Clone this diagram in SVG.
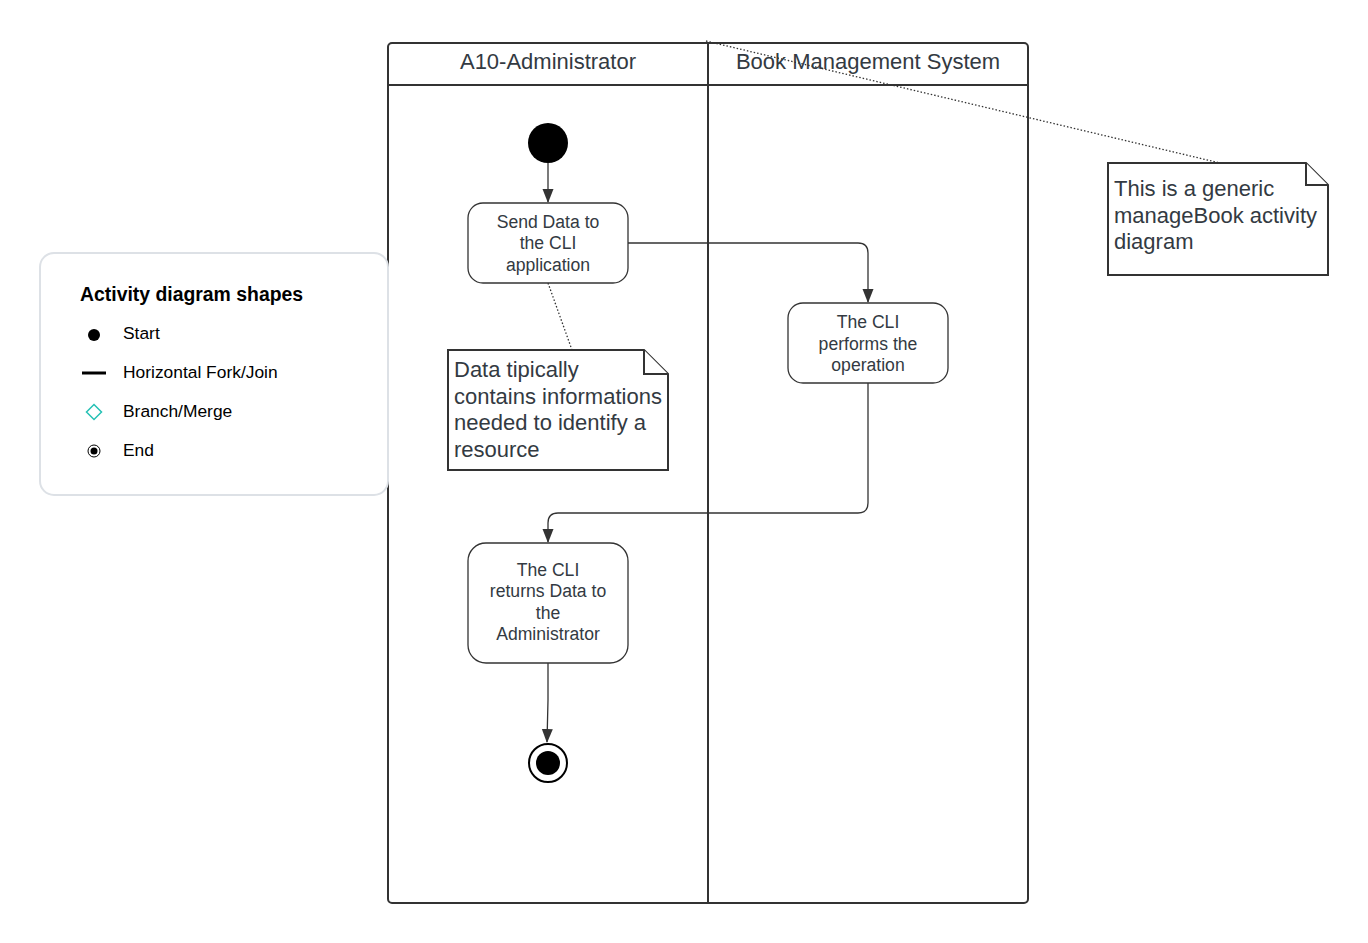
<svg xmlns="http://www.w3.org/2000/svg" width="1368" height="943" viewBox="0 0 1368 943">
  <defs>
    <marker id="arrow" viewBox="0 0 14 12" refX="13" refY="6" markerWidth="14" markerHeight="12" markerUnits="userSpaceOnUse" orient="auto">
      <path d="M0,0.5 L14,6 L0,11.5 Z" fill="#333333"/>
    </marker>
    <style>
      text { font-family: "Liberation Sans", Arial, sans-serif; fill: #333a42; }
      .lane { fill: none; stroke: #333333; stroke-width: 2; }
      .lanetitle { font-size: 22px; text-anchor: middle; }
      .act { fill: #ffffff; stroke: #333333; stroke-width: 1.3; }
      .actlabel { font-size: 17.6px; text-anchor: middle; }
      .note { fill: #ffffff; stroke: #333333; stroke-width: 2; }
      .notetext { font-size: 22px; }
      .flow { fill: none; stroke: #333333; stroke-width: 1.3; marker-end: url(#arrow); }
      .anchor { fill: none; stroke: #333333; stroke-width: 1.3; stroke-dasharray: 1.5 2; }
      .legtext { font-size: 17.4px; fill: #000000; }
    </style>
  </defs>

  <!-- swimlanes -->
  <g id="swimlanes">
    <rect class="lane" x="388" y="43" width="640" height="860" rx="4"/>
    <line class="lane" x1="388" y1="85" x2="1028" y2="85"/>
    <line class="lane" x1="708" y1="43" x2="708" y2="903"/>
    <text class="lanetitle" x="548" y="69">A10-Administrator</text>
    <text class="lanetitle" x="868" y="69">Book Management System</text>
  </g>

  <!-- legend -->
  <g id="legend">
    <rect x="40" y="253" width="348" height="242" rx="14" fill="#ffffff" stroke="#dde1e6" stroke-width="2"/>
    <text x="80" y="301" font-size="19.4" font-weight="bold" style="fill:#000000">Activity diagram shapes</text>
    <circle cx="94" cy="335" r="6" fill="#000000"/>
    <text class="legtext" x="123" y="339">Start</text>
    <line x1="82" y1="373" x2="106" y2="373" stroke="#000000" stroke-width="3"/>
    <text class="legtext" x="123" y="378">Horizontal Fork/Join</text>
    <path d="M94,404.5 L101.5,412 L94,419.5 L86.5,412 Z" fill="#ffffff" stroke="#26c1b5" stroke-width="1.5"/>
    <text class="legtext" x="123" y="417">Branch/Merge</text>
    <circle cx="94" cy="451" r="6" fill="#ffffff" stroke="#000000" stroke-width="1"/>
    <circle cx="94" cy="451" r="3.5" fill="#000000"/>
    <text class="legtext" x="123" y="456">End</text>
  </g>

  <!-- connectors -->
  <g id="connectors">
    <line class="flow" x1="548" y1="163" x2="548" y2="202"/>
    <path class="flow" d="M628,243 L858,243 Q868,243 868,253 L868,302"/>
    <path class="flow" d="M868,383 L868,503 Q868,513 858,513 L558,513 Q548,513 548,523 L548,542"/>
    <path class="flow" d="M548,663 L548,700 L547,742"/>
    <line class="anchor" x1="548" y1="283" x2="572" y2="350"/>
    <line class="anchor" x1="706" y1="41" x2="1220" y2="163"/>
  </g>

  <!-- initial node -->
  <g id="start">
    <circle cx="548" cy="143" r="20" fill="#000000"/>
  </g>

  <g id="send-data">
    <rect class="act" x="468" y="203" width="160" height="80" rx="15"/>
    <text class="actlabel" x="548" y="228">Send Data to</text>
    <text class="actlabel" x="548" y="249">the CLI</text>
    <text class="actlabel" x="548" y="271">application</text>
  </g>

  <g id="cli-performs">
    <rect class="act" x="788" y="303" width="160" height="80" rx="15"/>
    <text class="actlabel" x="868" y="328">The CLI</text>
    <text class="actlabel" x="868" y="350">performs the</text>
    <text class="actlabel" x="868" y="371">operation</text>
  </g>

  <g id="cli-returns">
    <rect class="act" x="468" y="543" width="160" height="120" rx="18"/>
    <text class="actlabel" x="548" y="576">The CLI</text>
    <text class="actlabel" x="548" y="597">returns Data to</text>
    <text class="actlabel" x="548" y="619">the</text>
    <text class="actlabel" x="548" y="640">Administrator</text>
  </g>

  <!-- final node -->
  <g id="end">
    <circle cx="548" cy="763" r="19" fill="#ffffff" stroke="#000000" stroke-width="2"/>
    <circle cx="548" cy="763" r="12" fill="#000000"/>
  </g>

  <g id="data-note">
    <path class="note" d="M448,350 L644,350 L668,374 L668,470 L448,470 Z"/>
    <path class="note" d="M644,350 L644,374 L668,374" fill="none"/>
    <text class="notetext" x="454" y="377">Data tipically</text>
    <text class="notetext" x="454" y="404">contains informations</text>
    <text class="notetext" x="454" y="430">needed to identify a</text>
    <text class="notetext" x="454" y="457">resource</text>
  </g>

  <g id="diagram-note">
    <path class="note" d="M1108,163 L1306,163 L1328,185 L1328,275 L1108,275 Z"/>
    <path class="note" d="M1306,163 L1306,185 L1328,185" fill="none"/>
    <text class="notetext" x="1114" y="196">This is a generic</text>
    <text class="notetext" x="1114" y="223">manageBook activity</text>
    <text class="notetext" x="1114" y="249">diagram</text>
  </g>
</svg>
